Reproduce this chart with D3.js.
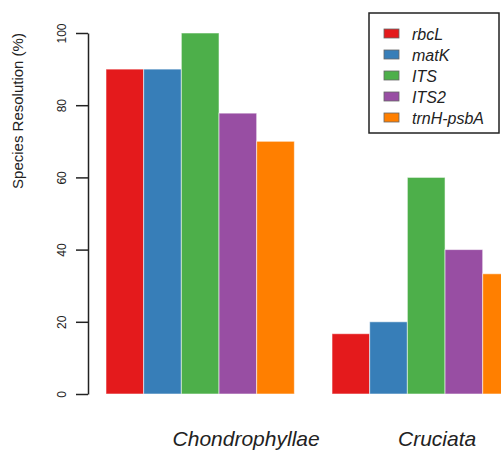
<!DOCTYPE html>
<html>
<head>
<meta charset="utf-8">
<script src="https://cdn.jsdelivr.net/npm/d3@7"></script>
<style>
  body { margin: 0; background: #fff; }
  svg { display: block; font-family: "Liberation Sans", Arial, sans-serif; }
</style>
</head>
<body>
<div id="chart"></div>
<script>
// data
const genes = ["rbcL", "matK", "ITS", "ITS2", "trnH-psbA"];
const groups = ["Chondrophyllae", "Cruciata"];
const chondrophyllae = [90, 90, 100, 77.8, 70];
const cruciata = [16.7, 20, 60, 40, 33.3];
const yTicks = [0, 20, 40, 60, 80, 100];
const colors = ["#E41A1C", "#377EB8", "#4DAF4A", "#984EA3", "#FF7F00"];

const width = 501, height = 452;
const values = [chondrophyllae, cruciata];

const svg = d3.select("#chart").append("svg")
    .attr("width", width)
    .attr("height", height);

// barplot units: one bar = 1 unit, one unit gap before each group (like R beside=TRUE)
const barW = 37.67;
const xScale = d3.scaleLinear()
    .domain([0, 13])
    .range([106 - barW, 106 - barW + 13 * barW]);

const yScale = d3.scaleLinear()
    .domain([0, 100])
    .range([394, 33]);

// bars
const bars = [];
values.forEach((vals, g) => {
    vals.forEach((v, i) => {
        bars.push({g: g, i: i, v: v, x0: 1 + g * 6 + i});
    });
});

svg.append("g")
    .selectAll("rect")
    .data(bars)
    .join("rect")
    .attr("x", d => xScale(d.x0))
    .attr("y", d => yScale(d.v))
    .attr("width", d => xScale(d.x0 + 1) - xScale(d.x0))
    .attr("height", d => yScale(0) - yScale(d.v))
    .attr("fill", d => colors[d.i])
    .attr("stroke", "#ffffff")
    .attr("stroke-opacity", 0.55)
    .attr("stroke-width", 1);

// y axis
const yAxis = d3.axisLeft(yScale)
    .tickValues(yTicks)
    .tickSize(12)
    .tickSizeOuter(0)
    .tickFormat(d3.format("d"));

const yg = svg.append("g")
    .attr("transform", "translate(88,0)")
    .call(yAxis);

yg.select(".domain").attr("stroke", "#222").attr("stroke-width", 1.5);
yg.selectAll(".tick line").attr("stroke", "#222").attr("stroke-width", 1.5);
yg.selectAll(".tick text")
    .attr("transform", "rotate(-90)")
    .attr("x", 0)
    .attr("y", -22)
    .attr("dy", null)
    .attr("text-anchor", "middle")
    .attr("fill", "#222")
    .style("font-size", "12px")
    .style("font-family", "'Liberation Sans', Arial, sans-serif");

// y axis title
svg.append("text")
    .attr("transform", "translate(23,111) rotate(-90)")
    .attr("text-anchor", "middle")
    .style("font-size", "15px")
    .attr("fill", "#222")
    .text("Species Resolution (%)");

// group labels (placed a little right of the group centre, as in the figure)
const labelPos = [4.72, 9.79];
svg.append("g")
    .selectAll("text")
    .data(groups)
    .join("text")
    .attr("x", (d, i) => xScale(labelPos[i]))
    .attr("y", 446)
    .attr("text-anchor", "middle")
    .style("font-size", "21px")
    .style("font-style", "italic")
    .attr("fill", "#222")
    .text(d => d);

// legend
const legend = svg.append("g");
legend.append("rect")
    .attr("x", 369)
    .attr("y", 13)
    .attr("width", 130)
    .attr("height", 120)
    .attr("fill", "#fff")
    .attr("stroke", "#222")
    .attr("stroke-width", 1.5);

const items = legend.selectAll("g.item")
    .data(genes)
    .join("g")
    .attr("class", "item")
    .attr("transform", (d, i) => `translate(384,${33.5 + i * 21})`);

items.append("rect")
    .attr("x", 0)
    .attr("y", -4.5)
    .attr("width", 15)
    .attr("height", 9)
    .attr("fill", (d, i) => colors[i])
    .attr("stroke", "#666")
    .attr("stroke-width", 0.8);

items.append("text")
    .attr("x", 28)
    .attr("y", 6)
    .style("font-size", "16px")
    .style("font-style", "italic")
    .attr("fill", "#222")
    .text(d => d);
</script>
</body>
</html>
